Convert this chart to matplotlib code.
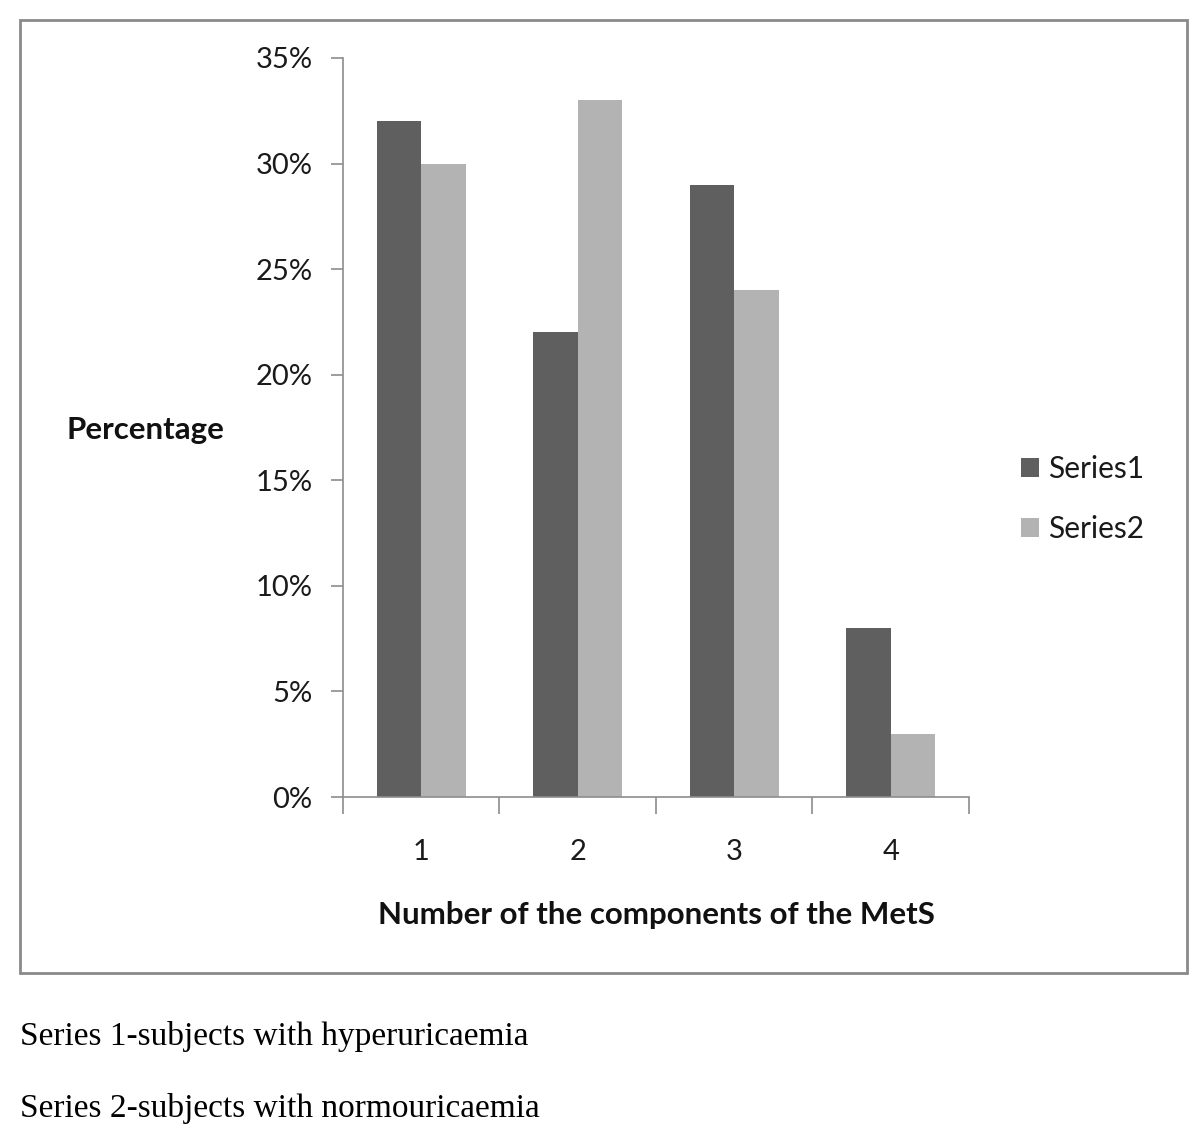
import matplotlib.pyplot as plt
import matplotlib.patches as mpatches
import numpy as np

# data
categories = ['1', '2', '3', '4']
series1 = [32, 22, 29, 8]    # subjects with hyperuricaemia
series2 = [30, 33, 24, 3]    # subjects with normouricaemia
yticks = [0, 5, 10, 15, 20, 25, 30, 35]

DARK = '#5f5f5f'
LIGHT = '#b3b3b3'
AXIS = '#8c8c8c'
SANS = ['Lato', 'DejaVu Sans']

fig = plt.figure(figsize=(12, 11.43), dpi=100)
fig.patch.set_facecolor('white')

# outer chart border
fig.patches.append(mpatches.Rectangle((20/1200, 1 - 973/1143), 1167/1200, 953/1143,
                                      transform=fig.transFigure, fill=False,
                                      edgecolor='#8a8a8a', linewidth=2))

ax = fig.add_axes([343/1200, 346/1143, 626/1200, 739/1143])
x = np.arange(1, len(categories) + 1)
w = 0.284
ax.bar(x - w/2, series1, width=w, color=DARK, label='Series1')
ax.bar(x + w/2, series2, width=w, color=LIGHT, label='Series2')

ax.set_xlim(0.5, len(categories) + 0.5)
ax.set_ylim(0, 35)
ax.set_yticks(yticks)
ax.set_yticklabels([f'{t}%' for t in yticks], fontfamily=SANS, fontsize=21, color='#1a1a1a')
ax.set_xticks(np.arange(0.5, len(categories) + 1))
ax.set_xticklabels([])
ax.set_xticks(x, minor=True)
ax.set_xticklabels(categories, minor=True, fontfamily=SANS, fontsize=21, color='#1a1a1a')
ax.tick_params(axis='y', length=9, width=1.2, color=AXIS, pad=13)
ax.tick_params(axis='x', which='major', length=12, width=1.2, color=AXIS)
ax.tick_params(axis='x', which='minor', length=0, pad=30)

for s in ['top', 'right']:
    ax.spines[s].set_visible(False)
for s in ['left', 'bottom']:
    ax.spines[s].set_color(AXIS)
    ax.spines[s].set_linewidth(1.2)

fig.text(145/1200, 1 - 430/1143, 'Percentage', ha='center', va='center',
         fontfamily=SANS, fontsize=22.5, fontweight='bold', color='#111111')
fig.text(656/1200, 1 - 915/1143, 'Number of the components of the MetS',
         ha='center', va='center', fontfamily=SANS, fontsize=22.5,
         fontweight='bold', color='#111111')

fig.legend(loc='center left', bbox_to_anchor=(994/1200, 1 - 499/1143),
           frameon=False, prop={'family': SANS, 'size': 21.5},
           handlelength=0.6, handleheight=0.6, handletextpad=0.3,
           labelspacing=1.05, labelcolor='#1a1a1a')

fig.text(20/1200, 1 - 1037/1143, 'Series 1-subjects with hyperuricaemia',
         ha='left', va='center', fontfamily='Liberation Serif', fontsize=24)
fig.text(20/1200, 1 - 1108/1143, 'Series 2-subjects with normouricaemia',
         ha='left', va='center', fontfamily='Liberation Serif', fontsize=24)

plt.savefig('out.png', dpi=100, facecolor=fig.get_facecolor())
